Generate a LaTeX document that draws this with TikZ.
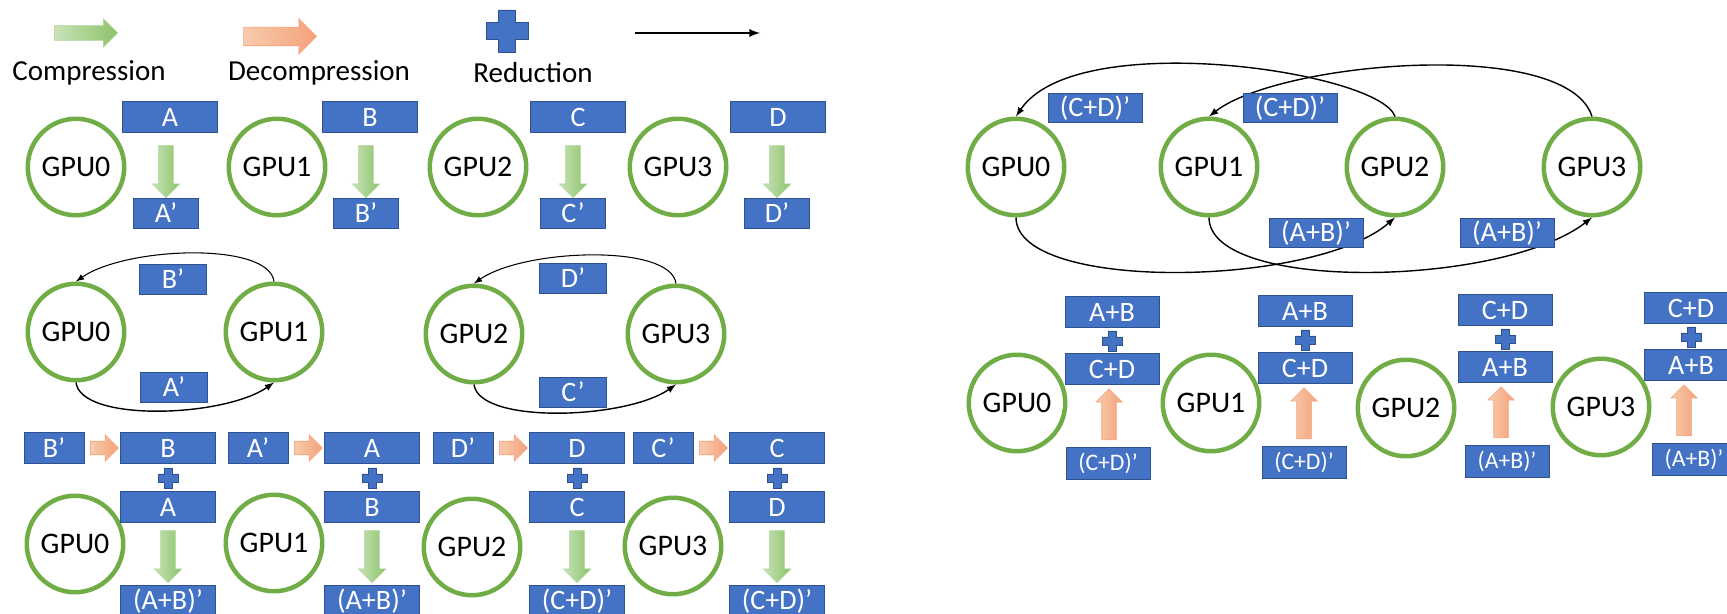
\documentclass[tikz,border=0pt]{standalone}
\usepackage{fontspec}
\setmainfont{Carlito}
\usetikzlibrary{arrows,shapes.arrows,positioning}
\definecolor{boxblue}{HTML}{4472C4}
\definecolor{boxedge}{HTML}{2F528F}
\definecolor{ringgreen}{HTML}{70AD47}
\definecolor{cmplight}{HTML}{C9E2B8}
\definecolor{cmpdark}{HTML}{8CC36A}
\definecolor{dcmplight}{HTML}{F8CBAD}
\definecolor{dcmpdark}{HTML}{F4A27A}
\tikzset{sumsign/.pic={\filldraw[fill=boxblue,draw=boxedge,line width=0.4pt]
  (-4,-10) -- (4,-10) -- (4,-4) -- (10,-4) -- (10,4) -- (4,4) -- (4,10)
  -- (-4,10) -- (-4,4) -- (-10,4) -- (-10,-4) -- (-4,-4) -- cycle;}}

\begin{document}
\begin{tikzpicture}[x=0.02cm,y=-0.02cm,
    gpu/.style={circle,draw=ringgreen,line width=0.09cm,minimum size=1.93cm,
      inner sep=0pt,font=\fontsize{17}{17}\selectfont},
    blk/.style={rectangle,fill=boxblue,draw=boxedge,line width=0.5pt,text=white,
      minimum width=1.9cm,minimum height=0.62cm,inner sep=0pt,
      font=\fontsize{16}{16}\selectfont},
    sblk/.style={blk,minimum width=1.3cm,minimum height=0.6cm},
    cmp/.style={single arrow,single arrow head extend=0.13cm,inner xsep=0pt,
      inner ysep=0.14cm,minimum height=1.04cm,left color=cmplight,
      right color=cmpdark,draw=cmpdark!70,line width=0.3pt},
    dcmp/.style={cmp,left color=dcmplight,right color=dcmpdark,draw=dcmpdark,
      inner ysep=0.13cm,minimum height=0.56cm},
    link/.style={-latex,thick},
    lbl/.style={font=\fontsize{16.5}{16.5}\selectfont}]
  \useasboundingbox (0,0) rectangle (1727,614);
  % legend
  \node[cmp,single arrow head extend=0.14cm,minimum height=1.26cm] (lg0) at (82.5,33) {};
  \node[lbl] (lt0) at (89,73) {Compression};
  \node[dcmp,inner ysep=0.18cm,minimum height=1.46cm,single arrow head extend=0.17cm]
    (lg1) at (275.5,36.5) {};
  \node[lbl] (lt1) at (319,73) {Decompression};
  \pic[scale=2.1] (lg2) at (507,31) {sumsign};
  \node[lbl] (lt2) at (533,73) {Reduction};
  \coordinate (la) at (635,33);
  \coordinate (lb) at (760,33);
  \draw[-latex,line width=1.1pt] (la) -- (lb);
  % compress
  \foreach \i/\x/\bx/\px/\nm in {0/76/170/166/A,1/277/370/366/B,2/478/578/573/C,3/678/778/777/D}{
    \node[gpu] (a\i) at (\x,167) {GPU\i};
    \node[blk] (ab\i) at (\bx,117) {\nm};
    \node[cmp,rotate=-90] (aa\i) at (\px,168) {};
    \node[sblk] (ap\i) at (\px,213) {\nm'};
  }
  % exchange in pairs
  \foreach \i/\x/\y in {0/76/332,1/274/332,2/474/334,3/676/334}
    \node[gpu] (b\i) at (\x,\y) {GPU\i};
  \draw[link,semithick] (b1.north) .. controls +(-5,-40) and +(50,-35) .. (b0.north);
  \draw[link] (b0.south) .. controls +(5,40) and +(-50,35) .. (b1.south);
  \draw[link,semithick] (b3.north) .. controls +(-5,-40) and +(50,-35) .. (b2.north);
  \draw[link] (b2.south) .. controls +(5,40) and +(-50,35) .. (b3.south);
  \node[sblk,minimum width=1.34cm] (bp0) at (173,279) {B'};
  \node[sblk,minimum width=1.34cm] (bp1) at (174,387) {A'};
  \node[sblk,minimum width=1.34cm] (bp2) at (573,278) {D'};
  \node[sblk,minimum width=1.34cm] (bp3) at (573,392) {C'};
  % decompress, reduce, compress
  \foreach \i/\x/\y/\bx/\up/\lo/\res in {0/75/544/168/B/A/A+B,1/274/543/372/A/B/A+B,
      2/472/547/577/D/C/C+D,3/673/546/777/C/D/C+D}{
    \node[gpu] (c\i) at (\x,\y) {GPU\i};
    \node[sblk,minimum width=1.2cm,minimum height=0.62cm] (cp\i) at (\bx-114,448) {\up'};
    \node[dcmp] (cd\i) at (\bx-67,448) {};
    \node[blk] (ct\i) at (\bx,448) {\up};
    \pic (cs\i) at (\bx,478) {sumsign};
    \node[blk] (cb\i) at (\bx,507) {\lo};
    \node[cmp,rotate=-90] (ca\i) at (\bx,553) {};
    \node[blk] (cr\i) at (\bx,601) {(\res)'};
  }
  % exchange across pairs
  \foreach \i/\x in {0/1016,1/1209,2/1395,3/1592}
    \node[gpu] (d\i) at (\x,167) {GPU\i};
  \draw[link] (d2.north) .. controls +(-15,-45) and +(60,-90) .. (d0.north);
  \draw[link] (d3.north) .. controls +(-25,-80) and +(70,-55) .. (d1.north);
  \draw[link] (d0.south) .. controls +(0,75) and +(-80,70) .. (d2.south);
  \draw[link] (d1.south) .. controls +(0,75) and +(-90,70) .. (d3.south);
  \node[blk,minimum width=1.88cm,minimum height=0.58cm] (dp0) at (1095,108) {(C+D)'};
  \node[blk,minimum width=1.88cm,minimum height=0.58cm] (dp1) at (1290,108) {(C+D)'};
  \node[blk,minimum width=1.88cm,minimum height=0.58cm] (dp2) at (1316,233) {(A+B)'};
  \node[blk,minimum width=1.88cm,minimum height=0.58cm] (dp3) at (1507,233) {(A+B)'};
  % decompress and reduce
  \foreach \i/\x/\y/\bx/\ty/\up/\lo/\ax/\rx in {0/1017/403/1112/312/A+B/C+D/1109/1108,
      1/1211/403/1305/311/A+B/C+D/1304/1304,2/1406/408/1505/310/C+D/A+B/1501/1507,
      3/1601/407/1691/308/C+D/A+B/1684/1694}{
    \node[gpu] (e\i) at (\x,\y) {GPU\i};
    \node[blk,minimum width=1.88cm] (et\i) at (\bx,\ty) {\up};
    \pic (es\i) at (\bx,\ty+29) {sumsign};
    \node[blk,minimum width=1.88cm] (eb\i) at (\bx,\ty+57) {\lo};
    \node[dcmp,rotate=90,inner ysep=0.14cm,minimum height=1.02cm,
      single arrow head extend=0.12cm] (ed\i) at (\ax,\ty+106) {};
    \node[blk,minimum width=1.68cm,minimum height=0.64cm,font=\fontsize{13.5}{13.5}\selectfont]
      (er\i) at (\rx,\ty+151) {(\lo)'};
  }
\end{tikzpicture}
\end{document}
